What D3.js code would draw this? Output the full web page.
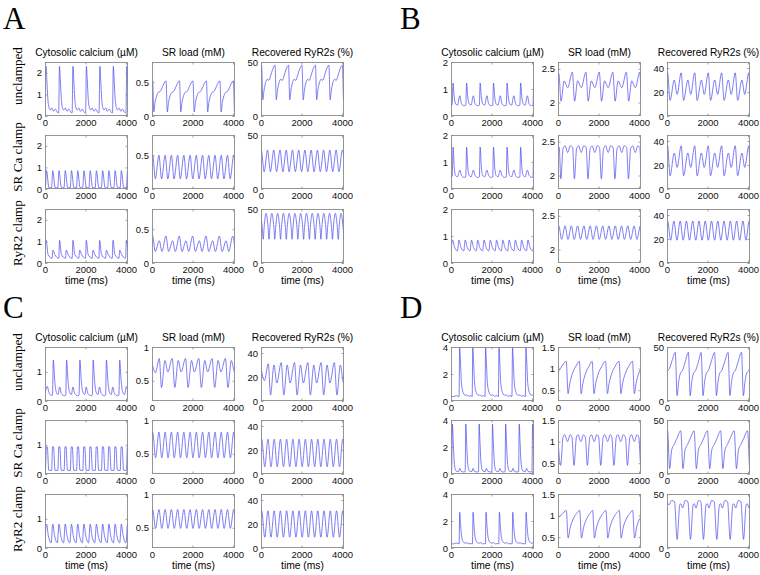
<!DOCTYPE html>
<html><head><meta charset="utf-8">
<script src="https://cdn.jsdelivr.net/npm/d3@7"></script>
<style>body{margin:0;background:#fff}svg{display:block}</style>
</head><body>
<svg id="c" width="760" height="575"></svg>
<script>
// ---------- labels & ticks ----------
const panelLetters = ["A","B","C","D"];
const columnTitles = ["Cytosolic calcium (\u00b5M)", "SR load (mM)", "Recovered RyR2s (%)"];
const rowLabels = ["unclamped", "SR Ca clamp", "RyR2 clamp"];
const xLabel = "time (ms)";
const xDomain = [0, 4100];
const xTickValues = [0, 2000, 4000];

const yDomainsA = [[0,2.5],[0,0.8],[0,50]];
const yTicksA   = [[0,1,2],[0,0.5],[0,50]];
const yDomainsB = [[0,2],[1.8,2.6],[0,45]];
const yTicksB   = [[0,1,2],[2,2.5],[0,20,40]];
const yDomainsC = [[0,1.85],[0.2,1],[0,45]];
const yTicksC   = [[0,1],[0.5,1],[0,20,40]];
const yDomainsD = [[0,4],[0.25,1.5],[0,50]];
const yTicksD   = [[0,2,4],[0.5,1,1.5],[0,50]];

// ---------- series: [time (ms), value] ----------
// Panel A
const A_unc_cyto = [[0,1.3],[50,2.3],[90,1.7],[140,0.8],[200,0.38],[260,0.28],[340,0.37],[420,0.22],[510,0.32],[610,0.17],[675,0.15],[715,2.3],[755,1.7],[805,0.8],[865,0.38],[925,0.28],[1005,0.37],[1085,0.22],[1175,0.32],[1275,0.17],[1340,0.15],[1380,2.3],[1420,1.7],[1470,0.8],[1530,0.38],[1590,0.28],[1670,0.37],[1750,0.22],[1840,0.32],[1940,0.17],[2005,0.15],[2045,2.3],[2085,1.7],[2135,0.8],[2195,0.38],[2255,0.28],[2335,0.37],[2415,0.22],[2505,0.32],[2605,0.17],[2670,0.15],[2710,2.3],[2750,1.7],[2800,0.8],[2860,0.38],[2920,0.28],[3000,0.37],[3080,0.22],[3170,0.32],[3270,0.17],[3335,0.15],[3375,2.3],[3415,1.7],[3465,0.8],[3525,0.38],[3585,0.28],[3665,0.37],[3745,0.22],[3835,0.32],[3935,0.17],[4000,0.15],[4040,2.3],[4080,1.7],[4100,1.4]];
const A_unc_sr = [[0,0.5],[30,0.52],[90,0.06],[150,0.2],[230,0.3],[310,0.35],[390,0.36],[470,0.4],[570,0.47],[695,0.52],[755,0.06],[815,0.2],[895,0.3],[975,0.35],[1055,0.36],[1135,0.4],[1235,0.47],[1360,0.52],[1420,0.06],[1480,0.2],[1560,0.3],[1640,0.35],[1720,0.36],[1800,0.4],[1900,0.47],[2025,0.52],[2085,0.06],[2145,0.2],[2225,0.3],[2305,0.35],[2385,0.36],[2465,0.4],[2565,0.47],[2690,0.52],[2750,0.06],[2810,0.2],[2890,0.3],[2970,0.35],[3050,0.36],[3130,0.4],[3230,0.47],[3355,0.52],[3415,0.06],[3475,0.2],[3555,0.3],[3635,0.35],[3715,0.36],[3795,0.4],[3895,0.47],[4020,0.52],[4080,0.06],[4100,0.12]];
const A_unc_ryr = [[0,44],[30,47],[90,15],[150,24],[230,31],[310,34],[390,33],[470,37],[570,43],[695,47],[755,15],[815,24],[895,31],[975,34],[1055,33],[1135,37],[1235,43],[1360,47],[1420,15],[1480,24],[1560,31],[1640,34],[1720,33],[1800,37],[1900,43],[2025,47],[2085,15],[2145,24],[2225,31],[2305,34],[2385,33],[2465,37],[2565,43],[2690,47],[2750,15],[2810,24],[2890,31],[2970,34],[3050,33],[3130,37],[3230,43],[3355,47],[3415,15],[3475,24],[3555,31],[3635,34],[3715,33],[3795,37],[3895,43],[4020,47],[4080,15],[4100,20]];
const A_sr_cyto = [[0,0.05],[15,0.05],[75,0.85],[195,0.06],[323,0.05],[383,0.85],[503,0.06],[631,0.05],[691,0.85],[811,0.06],[939,0.05],[999,0.85],[1119,0.06],[1247,0.05],[1307,0.85],[1427,0.06],[1555,0.05],[1615,0.85],[1735,0.06],[1863,0.05],[1923,0.85],[2043,0.06],[2171,0.05],[2231,0.85],[2351,0.06],[2479,0.05],[2539,0.85],[2659,0.06],[2787,0.05],[2847,0.85],[2967,0.06],[3095,0.05],[3155,0.85],[3275,0.06],[3403,0.05],[3463,0.85],[3583,0.06],[3711,0.05],[3771,0.85],[3891,0.06],[4019,0.05],[4079,0.85],[4100,0.75]];
const A_sr_sr = [[0,0.45],[35,0.5],[165,0.15],[343,0.5],[473,0.15],[651,0.5],[781,0.15],[959,0.5],[1089,0.15],[1267,0.5],[1397,0.15],[1575,0.5],[1705,0.15],[1883,0.5],[2013,0.15],[2191,0.5],[2321,0.15],[2499,0.5],[2629,0.15],[2807,0.5],[2937,0.15],[3115,0.5],[3245,0.15],[3423,0.5],[3553,0.15],[3731,0.5],[3861,0.15],[4039,0.5],[4100,0.32]];
const A_sr_ryr = [[0,35],[15,36],[155,16],[323,36],[463,16],[631,36],[771,16],[939,36],[1079,16],[1247,36],[1387,16],[1555,36],[1695,16],[1863,36],[2003,16],[2171,36],[2311,16],[2479,36],[2619,16],[2787,36],[2927,16],[3095,36],[3235,16],[3403,36],[3543,16],[3711,36],[3851,16],[4019,36],[4100,28]];
const A_ryr_cyto = [[0,0.7],[60,1.05],[150,0.4],[350,0.22],[390,0.6],[480,0.4],[680,0.22],[720,1.05],[810,0.4],[1010,0.22],[1050,0.6],[1140,0.4],[1340,0.22],[1380,1.05],[1470,0.4],[1670,0.22],[1710,0.6],[1800,0.4],[2000,0.22],[2040,1.05],[2130,0.4],[2330,0.22],[2370,0.6],[2460,0.4],[2660,0.22],[2700,1.05],[2790,0.4],[2990,0.22],[3030,0.6],[3120,0.4],[3320,0.22],[3360,1.05],[3450,0.4],[3650,0.22],[3690,0.6],[3780,0.4],[3980,0.22],[4020,1.05],[4100,0.5]];
const A_ryr_sr = [[0,0.38],[30,0.4],[160,0.17],[360,0.33],[490,0.17],[690,0.4],[820,0.17],[1020,0.33],[1150,0.17],[1350,0.4],[1480,0.17],[1680,0.33],[1810,0.17],[2010,0.4],[2140,0.17],[2340,0.33],[2470,0.17],[2670,0.4],[2800,0.17],[3000,0.33],[3130,0.17],[3330,0.4],[3460,0.17],[3660,0.33],[3790,0.17],[3990,0.4],[4100,0.18]];
const A_ryr_ryr = [[0,45],[60,33],[110,22],[155,33],[250,46],[350,33],[395,22],[440,33],[535,46],[635,33],[680,22],[725,33],[820,46],[920,33],[965,22],[1010,33],[1105,46],[1205,33],[1250,22],[1295,33],[1390,46],[1490,33],[1535,22],[1580,33],[1675,46],[1775,33],[1820,22],[1865,33],[1960,46],[2060,33],[2105,22],[2150,33],[2245,46],[2345,33],[2390,22],[2435,33],[2530,46],[2630,33],[2675,22],[2720,33],[2815,46],[2915,33],[2960,22],[3005,33],[3100,46],[3200,33],[3245,22],[3290,33],[3385,46],[3485,33],[3530,22],[3575,33],[3670,46],[3770,33],[3815,22],[3860,33],[3955,46],[4055,33],[4100,22]];

// Panel B
const B_unc_cyto = [[0,0.4],[60,0.42],[100,1.22],[160,0.7],[230,0.45],[320,0.4],[435,0.75],[520,0.45],[640,0.38],[730,0.4],[770,1.22],[830,0.7],[900,0.45],[990,0.4],[1105,0.75],[1190,0.45],[1310,0.38],[1400,0.4],[1440,1.22],[1500,0.7],[1570,0.45],[1660,0.4],[1775,0.75],[1860,0.45],[1980,0.38],[2060,0.4],[2100,1.22],[2160,0.7],[2230,0.45],[2320,0.4],[2435,0.75],[2520,0.45],[2640,0.38],[2730,0.4],[2770,1.22],[2830,0.7],[2900,0.45],[2990,0.4],[3105,0.75],[3190,0.45],[3310,0.38],[3400,0.4],[3440,1.22],[3500,0.7],[3570,0.45],[3660,0.4],[3775,0.75],[3860,0.45],[3980,0.38],[4050,0.4],[4090,1.22],[4100,1.1]];
const B_unc_sr = [[0,2.4],[40,2.43],[150,2.02],[300,2.32],[480,2.22],[710,2.45],[820,2.02],[970,2.32],[1150,2.22],[1380,2.45],[1490,2.02],[1640,2.32],[1820,2.22],[2040,2.45],[2150,2.02],[2300,2.32],[2480,2.22],[2710,2.45],[2820,2.02],[2970,2.32],[3150,2.22],[3380,2.45],[3490,2.02],[3640,2.32],[3820,2.22],[4040,2.45],[4100,2.1]];
const B_unc_ryr = [[0,34],[30,36],[150,13],[360,30],[500,18],[700,36],[820,13],[1030,30],[1170,18],[1370,36],[1490,13],[1700,30],[1840,18],[2040,36],[2150,13],[2360,30],[2500,18],[2700,36],[2820,13],[3030,30],[3170,18],[3370,36],[3490,13],[3700,30],[3840,18],[4040,36],[4100,14]];
const B_sr_cyto = [[0,0.45],[60,0.47],[100,1.55],[160,0.8],[230,0.5],[320,0.45],[435,0.7],[520,0.5],[640,0.43],[730,0.45],[770,1.55],[830,0.8],[900,0.5],[990,0.45],[1105,0.7],[1190,0.5],[1310,0.43],[1400,0.45],[1440,1.55],[1500,0.8],[1570,0.5],[1660,0.45],[1775,0.7],[1860,0.5],[1980,0.43],[2060,0.45],[2100,1.55],[2160,0.8],[2230,0.5],[2320,0.45],[2435,0.7],[2520,0.5],[2640,0.43],[2730,0.45],[2770,1.55],[2830,0.8],[2900,0.5],[2990,0.45],[3105,0.7],[3190,0.5],[3310,0.43],[3400,0.45],[3440,1.55],[3500,0.8],[3570,0.5],[3660,0.45],[3775,0.7],[3860,0.5],[3980,0.43],[4050,0.45],[4090,1.55],[4100,1.4]];
const B_sr_sr = [[0,2.4],[60,2.42],[140,1.95],[250,2.4],[350,2.44],[480,2.34],[600,2.44],[720,2.42],[810,1.95],[920,2.4],[1020,2.44],[1150,2.34],[1270,2.44],[1390,2.42],[1480,1.95],[1590,2.4],[1690,2.44],[1820,2.34],[1940,2.44],[2050,2.42],[2140,1.95],[2250,2.4],[2350,2.44],[2480,2.34],[2600,2.44],[2720,2.42],[2810,1.95],[2920,2.4],[3020,2.44],[3150,2.34],[3270,2.44],[3390,2.42],[3480,1.95],[3590,2.4],[3690,2.44],[3820,2.34],[3940,2.44],[4040,2.42],[4100,2.0]];
const B_sr_ryr = [[0,34],[30,36],[150,11],[360,30],[500,18],[700,36],[820,11],[1030,30],[1170,18],[1370,36],[1490,11],[1700,30],[1840,18],[2040,36],[2150,11],[2360,30],[2500,18],[2700,36],[2820,11],[3030,30],[3170,18],[3370,36],[3490,11],[3700,30],[3840,18],[4040,36],[4100,13]];
const B_ryr_cyto = [[0,0.5],[80,0.85],[180,0.58],[320,0.45],[390,0.85],[490,0.58],[630,0.45],[700,0.85],[800,0.58],[940,0.45],[1010,0.85],[1110,0.58],[1250,0.45],[1320,0.85],[1420,0.58],[1560,0.45],[1630,0.85],[1730,0.58],[1870,0.45],[1940,0.85],[2040,0.58],[2180,0.45],[2250,0.85],[2350,0.58],[2490,0.45],[2560,0.85],[2660,0.58],[2800,0.45],[2870,0.85],[2970,0.58],[3110,0.45],[3180,0.85],[3280,0.58],[3420,0.45],[3490,0.85],[3590,0.58],[3730,0.45],[3800,0.85],[3900,0.58],[4040,0.45],[4100,0.8]];
const B_ryr_sr = [[0,2.33],[40,2.35],[180,2.15],[350,2.35],[490,2.15],[660,2.35],[800,2.15],[970,2.35],[1110,2.15],[1280,2.35],[1420,2.15],[1590,2.35],[1730,2.15],[1900,2.35],[2040,2.15],[2210,2.35],[2350,2.15],[2520,2.35],[2660,2.15],[2830,2.35],[2970,2.15],[3140,2.35],[3280,2.15],[3450,2.35],[3590,2.15],[3760,2.35],[3900,2.15],[4070,2.35],[4100,2.33]];
const B_ryr_ryr = [[0,34],[30,35],[180,19],[340,35],[490,19],[650,35],[800,19],[960,35],[1110,19],[1270,35],[1420,19],[1580,35],[1730,19],[1890,35],[2040,19],[2200,35],[2350,19],[2510,35],[2660,19],[2820,35],[2970,19],[3130,35],[3280,19],[3440,35],[3590,19],[3750,35],[3900,19],[4060,35],[4100,33]];

// Panel C
const C_unc_cyto = [[0,0.25],[110,0.5],[200,0.28],[300,0.2],[370,0.2],[410,1.4],[480,0.7],[560,0.3],[650,0.22],[720,0.48],[810,0.25],[960,0.18],[1026,0.2],[1066,1.4],[1136,0.7],[1216,0.3],[1306,0.22],[1376,0.48],[1466,0.25],[1616,0.18],[1682,0.2],[1722,1.4],[1792,0.7],[1872,0.3],[1962,0.22],[2032,0.48],[2122,0.25],[2272,0.18],[2338,0.2],[2378,1.4],[2448,0.7],[2528,0.3],[2618,0.22],[2688,0.48],[2778,0.25],[2928,0.18],[2994,0.2],[3034,1.4],[3104,0.7],[3184,0.3],[3274,0.22],[3344,0.48],[3434,0.25],[3584,0.18],[3650,0.2],[3690,1.4],[3760,0.7],[3840,0.3],[3930,0.22],[4020,0.5],[4100,0.3]];
const C_unc_sr = [[0,0.76],[170,0.62],[360,0.83],[470,0.4],[640,0.8],[780,0.63],[1000,0.83],[1126,0.4],[1296,0.8],[1436,0.63],[1656,0.83],[1782,0.4],[1952,0.8],[2092,0.63],[2312,0.83],[2438,0.4],[2608,0.8],[2748,0.63],[2968,0.83],[3094,0.4],[3264,0.8],[3404,0.63],[3624,0.83],[3750,0.4],[3920,0.8],[4080,0.63],[4100,0.64]];
const C_unc_ryr = [[0,28],[170,17],[360,31],[470,5],[640,30],[780,15],[1000,32],[1126,5],[1296,30],[1436,15],[1656,32],[1782,5],[1952,30],[2092,15],[2312,32],[2438,5],[2608,30],[2748,15],[2968,32],[3094,5],[3264,30],[3404,15],[3624,32],[3750,5],[3920,30],[4080,15],[4100,16]];
const C_sr_cyto = [[0,0.12],[20,0.12],[65,0.93],[115,0.93],[185,0.13],[328,0.12],[373,0.93],[423,0.93],[493,0.13],[636,0.12],[681,0.93],[731,0.93],[801,0.13],[944,0.12],[989,0.93],[1039,0.93],[1109,0.13],[1252,0.12],[1297,0.93],[1347,0.93],[1417,0.13],[1560,0.12],[1605,0.93],[1655,0.93],[1725,0.13],[1868,0.12],[1913,0.93],[1963,0.93],[2033,0.13],[2176,0.12],[2221,0.93],[2271,0.93],[2341,0.13],[2484,0.12],[2529,0.93],[2579,0.93],[2649,0.13],[2792,0.12],[2837,0.93],[2887,0.93],[2957,0.13],[3100,0.12],[3145,0.93],[3195,0.93],[3265,0.13],[3408,0.12],[3453,0.93],[3503,0.93],[3573,0.13],[3716,0.12],[3761,0.93],[3811,0.93],[3881,0.13],[4024,0.12],[4069,0.93],[4100,0.93]];
const C_sr_sr = [[0,0.78],[35,0.82],[175,0.44],[343,0.82],[483,0.44],[651,0.82],[791,0.44],[959,0.82],[1099,0.44],[1267,0.82],[1407,0.44],[1575,0.82],[1715,0.44],[1883,0.82],[2023,0.44],[2191,0.82],[2331,0.44],[2499,0.82],[2639,0.44],[2807,0.82],[2947,0.44],[3115,0.82],[3255,0.44],[3423,0.82],[3563,0.44],[3731,0.82],[3871,0.44],[4039,0.82],[4100,0.6]];
const C_sr_ryr = [[0,27],[35,29],[185,6],[343,29],[493,6],[651,29],[801,6],[959,29],[1109,6],[1267,29],[1417,6],[1575,29],[1725,6],[1883,29],[2033,6],[2191,29],[2341,6],[2499,29],[2649,6],[2807,29],[2957,6],[3115,29],[3265,6],[3423,29],[3573,6],[3731,29],[3881,6],[4039,29],[4100,20]];
const C_ryr_cyto = [[0,0.3],[75,0.82],[165,0.42],[305,0.18],[383,0.82],[473,0.42],[613,0.18],[691,0.82],[781,0.42],[921,0.18],[999,0.82],[1089,0.42],[1229,0.18],[1307,0.82],[1397,0.42],[1537,0.18],[1615,0.82],[1705,0.42],[1845,0.18],[1923,0.82],[2013,0.42],[2153,0.18],[2231,0.82],[2321,0.42],[2461,0.18],[2539,0.82],[2629,0.42],[2769,0.18],[2847,0.82],[2937,0.42],[3077,0.18],[3155,0.82],[3245,0.42],[3385,0.18],[3463,0.82],[3553,0.42],[3693,0.18],[3771,0.82],[3861,0.42],[4001,0.18],[4079,0.82],[4100,0.75]];
const C_ryr_sr = [[0,0.72],[35,0.77],[175,0.49],[343,0.77],[483,0.49],[651,0.77],[791,0.49],[959,0.77],[1099,0.49],[1267,0.77],[1407,0.49],[1575,0.77],[1715,0.49],[1883,0.77],[2023,0.49],[2191,0.77],[2331,0.49],[2499,0.77],[2639,0.49],[2807,0.77],[2947,0.49],[3115,0.77],[3255,0.49],[3423,0.77],[3563,0.49],[3731,0.77],[3871,0.49],[4039,0.77],[4100,0.6]];
const C_ryr_ryr = [[0,28],[35,31],[185,9],[343,31],[493,9],[651,31],[801,9],[959,31],[1109,9],[1267,31],[1417,9],[1575,31],[1725,9],[1883,31],[2033,9],[2191,31],[2341,9],[2499,31],[2649,9],[2807,31],[2957,9],[3115,31],[3265,9],[3423,31],[3573,9],[3731,31],[3881,9],[4039,31],[4100,20]];

// Panel D
const D_unc_cyto = [[0,0.38],[150,0.32],[250,0.4],[398,0.33],[428,4.0],[458,3.2],[518,1.3],[608,0.6],[708,0.42],[788,0.45],[868,0.35],[968,0.4],[1046,0.33],[1076,4.0],[1106,3.2],[1166,1.3],[1256,0.6],[1356,0.42],[1436,0.45],[1516,0.35],[1616,0.4],[1679,0.33],[1709,4.0],[1739,3.2],[1799,1.3],[1889,0.6],[1989,0.42],[2069,0.45],[2149,0.35],[2249,0.4],[2341,0.33],[2371,4.0],[2401,3.2],[2461,1.3],[2551,0.6],[2651,0.42],[2731,0.45],[2811,0.35],[2911,0.4],[3009,0.33],[3039,4.0],[3069,3.2],[3129,1.3],[3219,0.6],[3319,0.42],[3399,0.45],[3479,0.35],[3579,0.4],[3672,0.33],[3702,4.0],[3732,3.2],[3792,1.3],[3882,0.6],[3982,0.42],[4062,0.45],[4100,0.4]];
const D_unc_sr = [[0,0.92],[200,1.06],[408,1.17],[498,0.42],[578,0.65],[708,0.88],[878,1.05],[1056,1.17],[1146,0.42],[1226,0.65],[1356,0.88],[1526,1.05],[1689,1.17],[1779,0.42],[1859,0.65],[1989,0.88],[2159,1.05],[2351,1.17],[2441,0.42],[2521,0.65],[2651,0.88],[2821,1.05],[3019,1.17],[3109,0.42],[3189,0.65],[3319,0.88],[3489,1.05],[3682,1.17],[3772,0.42],[3852,0.65],[3982,0.88],[4100,1.0]];
const D_unc_ryr = [[0,28],[120,30],[260,38],[408,45],[498,5],[578,18],[668,26],[758,28],[898,36],[1056,45],[1146,5],[1226,18],[1316,26],[1406,28],[1546,36],[1689,45],[1779,5],[1859,18],[1949,26],[2039,28],[2179,36],[2351,45],[2441,5],[2521,18],[2611,26],[2701,28],[2841,36],[3019,45],[3109,5],[3189,18],[3279,26],[3369,28],[3509,36],[3682,45],[3772,5],[3852,18],[3942,26],[4032,28],[4100,30]];
const D_sr_cyto = [[0,0.2],[30,0.25],[70,3.7],[110,2.4],[170,0.7],[250,0.22],[370,0.18],[430,0.42],[500,0.2],[630,0.15],[700,0.18],[730,3.7],[770,2.4],[830,0.7],[910,0.22],[1030,0.18],[1090,0.42],[1160,0.2],[1290,0.15],[1360,0.18],[1390,3.7],[1430,2.4],[1490,0.7],[1570,0.22],[1690,0.18],[1750,0.42],[1820,0.2],[1950,0.15],[2020,0.18],[2050,3.7],[2090,2.4],[2150,0.7],[2230,0.22],[2350,0.18],[2410,0.42],[2480,0.2],[2610,0.15],[2670,0.18],[2700,3.7],[2740,2.4],[2800,0.7],[2880,0.22],[3000,0.18],[3060,0.42],[3130,0.2],[3260,0.15],[3340,0.18],[3370,3.7],[3410,2.4],[3470,0.7],[3550,0.22],[3670,0.18],[3730,0.42],[3800,0.2],[3930,0.15],[4000,0.18],[4030,3.7],[4070,2.4],[4100,1.2]];
const D_sr_sr = [[0,1.05],[130,0.45],[250,1.1],[330,1.16],[470,1.0],[600,1.16],[690,1.1],[790,0.45],[910,1.1],[990,1.16],[1130,1.0],[1260,1.16],[1350,1.1],[1450,0.45],[1570,1.1],[1650,1.16],[1790,1.0],[1920,1.16],[2010,1.1],[2110,0.45],[2230,1.1],[2310,1.16],[2450,1.0],[2580,1.16],[2660,1.1],[2760,0.45],[2880,1.1],[2960,1.16],[3100,1.0],[3230,1.16],[3330,1.1],[3430,0.45],[3550,1.1],[3630,1.16],[3770,1.0],[3900,1.16],[3990,1.1],[4090,0.45],[4100,0.5]];
const D_sr_ryr = [[0,38],[30,40],[130,5],[230,22],[370,28],[490,33],[680,40],[790,5],[890,22],[1030,28],[1150,33],[1340,40],[1450,5],[1550,22],[1690,28],[1810,33],[2000,40],[2110,5],[2210,22],[2350,28],[2470,33],[2650,40],[2760,5],[2860,22],[3000,28],[3120,33],[3320,40],[3430,5],[3530,22],[3670,28],[3790,33],[3980,40],[4090,5],[4100,6]];
const D_ryr_cyto = [[0,0.35],[120,0.3],[250,0.38],[400,0.3],[430,2.65],[470,1.8],[530,0.8],[610,0.45],[710,0.35],[800,0.4],[890,0.3],[990,0.33],[1060,0.3],[1090,2.65],[1130,1.8],[1190,0.8],[1270,0.45],[1370,0.35],[1460,0.4],[1550,0.3],[1650,0.33],[1700,0.3],[1730,2.65],[1770,1.8],[1830,0.8],[1910,0.45],[2010,0.35],[2100,0.4],[2190,0.3],[2290,0.33],[2360,0.3],[2390,2.65],[2430,1.8],[2490,0.8],[2570,0.45],[2670,0.35],[2760,0.4],[2850,0.3],[2950,0.33],[3020,0.3],[3050,2.65],[3090,1.8],[3150,0.8],[3230,0.45],[3330,0.35],[3420,0.4],[3510,0.3],[3610,0.33],[3680,0.3],[3710,2.65],[3750,1.8],[3810,0.8],[3890,0.45],[3990,0.35],[4080,0.4],[4100,0.38]];
const D_ryr_sr = [[0,0.95],[200,1.03],[410,1.12],[500,0.48],[600,0.72],[750,0.92],[920,1.05],[1070,1.12],[1160,0.48],[1260,0.72],[1410,0.92],[1580,1.05],[1710,1.12],[1800,0.48],[1900,0.72],[2050,0.92],[2220,1.05],[2370,1.12],[2460,0.48],[2560,0.72],[2710,0.92],[2880,1.05],[3030,1.12],[3120,0.48],[3220,0.72],[3370,0.92],[3540,1.05],[3690,1.12],[3780,0.48],[3880,0.72],[4030,0.92],[4100,0.97]];
const D_ryr_ryr = [[0,43],[100,40],[230,44],[370,43],[500,8],[630,40],[690,41],[770,37],[900,44],[1030,43],[1160,8],[1290,40],[1350,41],[1430,37],[1560,44],[1670,43],[1800,8],[1930,40],[1990,41],[2070,37],[2200,44],[2330,43],[2460,8],[2590,40],[2650,41],[2730,37],[2860,44],[2990,43],[3120,8],[3250,40],[3310,41],[3390,37],[3520,44],[3650,43],[3780,8],[3910,40],[3970,41],[4050,37],[4100,40]];

// ---------- grouping ----------
const seriesA = [[A_unc_cyto,A_unc_sr,A_unc_ryr],[A_sr_cyto,A_sr_sr,A_sr_ryr],[A_ryr_cyto,A_ryr_sr,A_ryr_ryr]];
const seriesB = [[B_unc_cyto,B_unc_sr,B_unc_ryr],[B_sr_cyto,B_sr_sr,B_sr_ryr],[B_ryr_cyto,B_ryr_sr,B_ryr_ryr]];
const seriesC = [[C_unc_cyto,C_unc_sr,C_unc_ryr],[C_sr_cyto,C_sr_sr,C_sr_ryr],[C_ryr_cyto,C_ryr_sr,C_ryr_ryr]];
const seriesD = [[D_unc_cyto,D_unc_sr,D_unc_ryr],[D_sr_cyto,D_sr_sr,D_sr_ryr],[D_ryr_cyto,D_ryr_sr,D_ryr_ryr]];

// ---------- layout ----------
const SANS = "'Liberation Sans', Arial, Helvetica, sans-serif";
const SERIF = "'Liberation Serif', 'Times New Roman', Times, serif";
const BOXW = 83, BOXH = 54, TICK = 2.5;
const colX = [45, 152, 261];
const rowY = [62, 135, 209];
const rowLabelY = [76, 157, 233];
const panels = [
  {letter: panelLetters[0], ox: 0,   oy: 0,   lx: 3,   ly: 28.5, series: seriesA, doms: yDomainsA, ticks: yTicksA, rows: true},
  {letter: panelLetters[1], ox: 406, oy: 0,   lx: 400, ly: 28.5, series: seriesB, doms: yDomainsB, ticks: yTicksB, rows: false},
  {letter: panelLetters[2], ox: 0,   oy: 285, lx: 3,   ly: 318, series: seriesC, doms: yDomainsC, ticks: yTicksC, rows: true},
  {letter: panelLetters[3], ox: 406, oy: 285, lx: 400, ly: 318, series: seriesD, doms: yDomainsD, ticks: yTicksD, rows: false}
];

const svg = d3.select("#c");
const defs = svg.append("defs");
svg.append("rect").attr("width",760).attr("height",575).attr("fill","#fff");

const line = (x, y) => d3.line().x(d => x(d[0])).y(d => y(d[1])).curve(d3.curveMonotoneX);

function styleAxis(g, labels) {
  g.select(".domain").remove();
  g.selectAll(".tick line").attr("stroke", "#8a8a8a").attr("stroke-width", 0.8);
  g.selectAll(".tick text").attr("fill", labels ? "#111" : "none")
    .style("font-family", SANS).style("font-size", "9.5px");
}

let clipId = 0;
panels.forEach(p => {
  const pg = svg.append("g");
  pg.append("text").attr("x", p.lx).attr("y", p.ly).text(p.letter)
    .style("font-family", SERIF).style("font-size", "31px").attr("fill", "#000");

  colX.forEach((cx0, c) => {
    const bx = cx0 + p.ox;
    pg.append("text").attr("x", bx + BOXW / 2).attr("y", rowY[0] + p.oy - 6)
      .attr("text-anchor", "middle").text(columnTitles[c])
      .style("font-family", SANS).style("font-size", "10.2px").attr("fill", "#000");
    pg.append("text").attr("x", bx + BOXW / 2).attr("y", rowY[2] + p.oy + BOXH + 21)
      .attr("text-anchor", "middle").text(xLabel)
      .style("font-family", SANS).style("font-size", "10.3px").attr("fill", "#000");

    rowY.forEach((ry0, r) => {
      const by = ry0 + p.oy;
      const x = d3.scaleLinear().domain(xDomain).range([bx, bx + BOXW]);
      const y = d3.scaleLinear().domain(p.doms[c]).range([by + BOXH, by]);
      const id = "clip" + (clipId++);
      defs.append("clipPath").attr("id", id).append("rect")
        .attr("x", bx).attr("y", by).attr("width", BOXW).attr("height", BOXH);

      const g = pg.append("g");
      g.append("rect").attr("x", bx).attr("y", by).attr("width", BOXW).attr("height", BOXH)
        .attr("fill", "#fff");
      g.append("path").datum(p.series[r][c])
        .attr("clip-path", `url(#${id})`)
        .attr("d", line(x, y))
        .attr("fill", "none").attr("stroke", "#4646ee").attr("stroke-width", 0.7);

      const ab = g.append("g").attr("transform", `translate(0,${by + BOXH})`)
        .call(d3.axisBottom(x).tickValues(xTickValues).tickSizeInner(-TICK).tickSizeOuter(0).tickPadding(3).tickFormat(d => String(d)));
      styleAxis(ab, true);
      const at = g.append("g").attr("transform", `translate(0,${by})`)
        .call(d3.axisTop(x).tickValues(xTickValues).tickSizeInner(-TICK).tickSizeOuter(0).tickFormat(""));
      styleAxis(at, false);
      const al = g.append("g").attr("transform", `translate(${bx},0)`)
        .call(d3.axisLeft(y).tickValues(p.ticks[c]).tickSizeInner(-TICK).tickSizeOuter(0).tickPadding(3).tickFormat(d => String(d)));
      styleAxis(al, true);
      const ar = g.append("g").attr("transform", `translate(${bx + BOXW},0)`)
        .call(d3.axisRight(y).tickValues(p.ticks[c]).tickSizeInner(-TICK).tickSizeOuter(0).tickFormat(""));
      styleAxis(ar, false);

      g.append("rect").attr("x", bx + 0.5).attr("y", by + 0.5).attr("width", BOXW - 1).attr("height", BOXH - 1)
        .attr("fill", "none").attr("stroke", "#8a8a8a").attr("stroke-width", 0.9);
    });
  });

  if (p.rows) {
    rowLabels.forEach((lab, r) => {
      pg.append("text")
        .attr("transform", `translate(22,${rowLabelY[r] + p.oy + (p.oy ? 1 : 0)}) rotate(-90)`)
        .attr("text-anchor", "middle").text(lab)
        .style("font-family", SERIF).style("font-size", "13.2px").attr("fill", "#000");
    });
  }
});
</script>
</body></html>
